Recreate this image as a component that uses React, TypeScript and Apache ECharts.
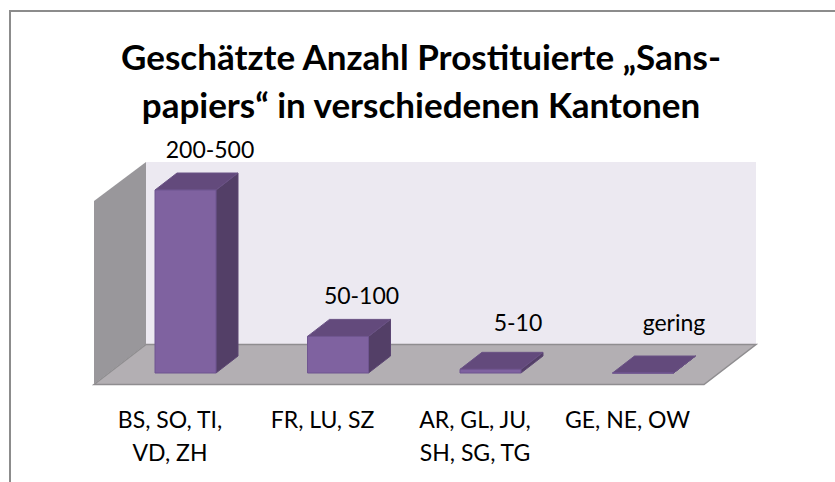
import React, { useEffect, useRef } from "react";
import * as echarts from "echarts";

const categories = ["BS, SO, TI,\nVD, ZH", "FR, LU, SZ", "AR, GL, JU,\nSH, SG, TG", "GE, NE, OW"];
const values = [500, 100, 10, 0];
const valueLabels = ["200-500", "50-100", "5-10", "gering"];
const titleText = "Geschätzte Anzahl Prostituierte „Sans-\npapiers“ in verschiedenen Kantonen";

const FONT = "Lato, Carlito, Calibri, sans-serif";
const DX = 22;
const DY = -17;
const LABEL_NUDGE = [[24.5, 0], [23.5, 0], [27.5, -6], [31, -10]];

function renderBar(params: any, api: any) {
  const idx = api.value(0);
  const val = api.value(1);
  const top = api.coord([idx, val]);
  const base = api.coord([idx, 0]);
  const w = api.size([1, 0])[0] * 0.4;
  const x0 = top[0] - w / 2;
  const x1 = top[0] + w / 2;
  const yt = top[1];
  const yb = base[1];
  return {
    type: "group",
    children: [
      {
        type: "polygon",
        shape: { points: [[x1, yb], [x1 + DX, yb + DY], [x1 + DX, yt + DY], [x1, yt]] },
        style: { fill: "#533f67", stroke: "#5c4673", lineWidth: 1 },
      },
      {
        type: "polygon",
        shape: { points: [[x0, yt], [x0 + DX, yt + DY], [x1 + DX, yt + DY], [x1, yt]] },
        style: { fill: "#634a7c", stroke: "#6a5285", lineWidth: 1 },
      },
      {
        type: "rect",
        shape: { x: x0, y: yt, width: w, height: yb - yt },
        style: { fill: "#7f62a0", stroke: "#6f5590", lineWidth: 1 },
      },
    ],
  };
}

export default function App() {
  const ref = useRef<HTMLDivElement>(null);
  useEffect(() => {
    const chart = echarts.init(ref.current!, null, { renderer: "svg" });
    chart.setOption({
      animation: false,
      backgroundColor: "#ffffff",
      title: {
        text: titleText,
        left: 416,
        top: 27,
        textAlign: "center",
        textStyle: { fontFamily: FONT, fontWeight: "bold", fontSize: 35, lineHeight: 48, color: "#000000" },
      },
      grid: { left: 109.25, width: 610, top: 190, height: 183 },
      xAxis: {
        type: "category",
        data: categories,
        boundaryGap: true,
        axisLine: { show: false },
        axisTick: { show: false },
        axisLabel: {
          interval: 0,
          margin: 29,
          padding: [0, 31, 0, 0],
          verticalAlign: "top",
          fontFamily: FONT,
          fontSize: 23,
          lineHeight: 33,
          color: "#000000",
        },
      },
      yAxis: { type: "value", min: 0, max: 500, interval: 100, show: false, splitLine: { show: false } },
      graphic: [
        { type: "rect", z: -10, shape: { x: 10, y: 11, width: 900, height: 600 }, style: { fill: "#ffffff", stroke: "#8c8c8c", lineWidth: 2 } },
        { type: "polygon", z: -9, shape: { points: [[146, 162], [756, 162], [756, 344], [146, 344]] }, style: { fill: "#ece9f1" } },
        { type: "polygon", z: -9, shape: { points: [[94, 201], [146, 162], [146, 344], [94, 384]] }, style: { fill: "#99979b" } },
        { type: "polygon", z: -9, shape: { points: [[94, 384.5], [146, 344.5], [756, 344.5], [704, 384.5]] }, style: { fill: "#b3afb3", stroke: "#8f8d90", lineWidth: 1.5 } },
      ],
      series: [
        {
          type: "custom",
          renderItem: renderBar,
          data: values.map((v, i) => [i, v]),
          encode: { x: 0, y: 1 },
          z: 3,
        },
        {
          type: "scatter",
          data: values.map((v, i) => ({
            value: [i, v],
            label: { formatter: valueLabels[i], offset: LABEL_NUDGE[i], color: "#000000" },
          })),
          symbolSize: 0,
          silent: true,
          z: 4,
          label: {
            show: true,
            position: "top",
            distance: 30,
            fontFamily: FONT,
            fontSize: 23,
            color: "#000000",
            opacity: 1,
          },
          itemStyle: { opacity: 1 },
        },
      ],
    });
    return () => chart.dispose();
  }, []);
  return <div ref={ref} style={{ position: "fixed", left: 0, top: 0, width: 835, height: 482 }} />;
}
